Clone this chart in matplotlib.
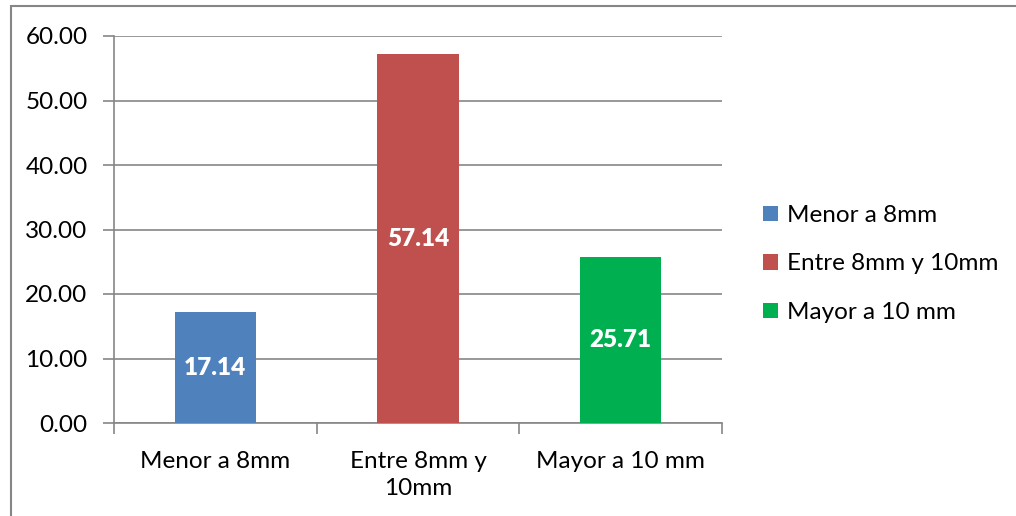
import matplotlib
matplotlib.use("Agg")
import matplotlib.pyplot as plt
from matplotlib.patches import Rectangle, Patch

# data
categories = ["Menor a 8mm", "Entre 8mm y\n10mm", "Mayor a 10 mm"]
legend_labels = ["Menor a 8mm", "Entre 8mm y 10mm", "Mayor a 10 mm"]
values = [17.14, 57.14, 25.71]
colors = ["#4f81bd", "#c0504d", "#00b050"]
yticks = [0, 10, 20, 30, 40, 50, 60]

plt.rcParams["font.family"] = ["Lato", "DejaVu Sans"]
grid_col = "#868686"
fs = 17.5

fig = plt.figure(figsize=(10.16, 5.16), dpi=100)
ax = fig.add_axes([114/1016, 1-423/516, (722-114)/1016, (423-36)/516])

x = list(range(len(values)))
bars = ax.bar(x, values, width=0.40, color=colors, zorder=3)
for b, v in zip(bars, values):
    ax.text(b.get_x() + b.get_width()/2, v/2, f"{v:.2f}", ha="center", va="center",
            color="white", fontsize=fs, fontweight="heavy", zorder=4)

ax.set_xlim(-0.5, 2.5)
ax.set_ylim(0, 60)
ax.set_yticks(yticks)
ax.set_yticklabels([f"{t:.2f}" for t in yticks], fontsize=fs)
ax.set_xticks(x)
ax.set_xticklabels(categories, fontsize=fs, linespacing=1.35)
ax.tick_params(axis="x", length=0, pad=20)
ax.tick_params(axis="y", length=8, color=grid_col, width=1.2, pad=11)
ax.set_xticks([-0.5, 0.5, 1.5, 2.5], minor=True)
ax.tick_params(axis="x", which="minor", length=8, color=grid_col, width=1.2)
ax.yaxis.grid(True, color=grid_col, linewidth=1.2, zorder=0)
for s in ["top", "right"]:
    ax.spines[s].set_visible(False)
for s in ["left", "bottom"]:
    ax.spines[s].set_color(grid_col)
    ax.spines[s].set_linewidth(1.2)

handles = [Patch(facecolor=c) for c in colors]
fig.legend(handles, legend_labels, loc="center left", bbox_to_anchor=(763/1016, 1-264/516),
           frameon=False, fontsize=fs, handlelength=0.62, handleheight=0.62,
           handletextpad=0.35, labelspacing=1.13, borderpad=0, borderaxespad=0)

# chart area border
fig.patches.append(Rectangle((11/1016, -0.1), 1.2, 1 - 6/516 + 0.1, transform=fig.transFigure,
                             fill=False, edgecolor=grid_col, linewidth=1.5))

fig.savefig("out.png", dpi=100)
